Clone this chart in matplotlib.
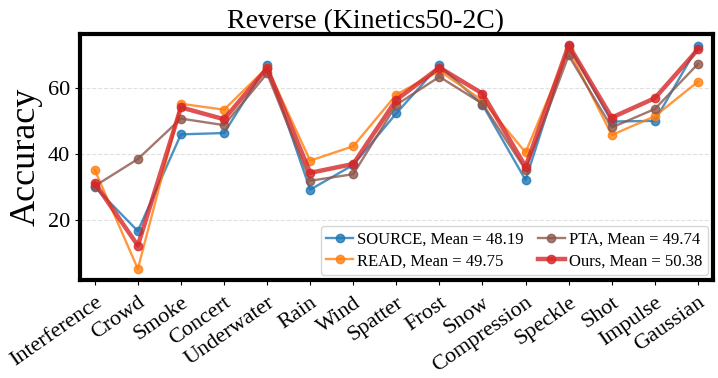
import matplotlib
matplotlib.use("Agg")
import matplotlib.pyplot as plt

categories = ["Interference", "Crowd", "Smoke", "Concert", "Underwater", "Rain", "Wind",
              "Spatter", "Frost", "Snow", "Compression", "Speckle", "Shot", "Impulse", "Gaussian"]
source = [29.9, 16.5, 45.9, 46.3, 67.0, 29.1, 36.6, 52.3, 66.9, 54.9, 32.0, 72.8, 49.8, 50.0, 72.7]
read = [35.1, 5.0, 55.2, 53.4, 66.2, 37.9, 42.3, 58.0, 65.2, 56.2, 40.4, 71.7, 45.7, 51.4, 61.9]
pta = [30.2, 38.4, 50.7, 48.7, 64.4, 31.8, 33.8, 54.9, 63.4, 55.2, 35.1, 69.9, 48.0, 53.6, 67.3]
ours = [31.1, 12.1, 54.1, 50.5, 66.0, 34.2, 36.9, 56.4, 66.2, 58.3, 36.1, 73.0, 51.0, 56.9, 71.7]
labels = ["SOURCE, Mean = 48.19", "READ, Mean = 49.75", "PTA, Mean = 49.74", "Ours, Mean = 50.38"]
title = "Reverse (Kinetics50-2C)"

plt.rcParams['font.family'] = ['Liberation Serif', 'DejaVu Serif']

fig = plt.figure(figsize=(7.18, 3.78), dpi=100)
ax = fig.add_axes([0.111, 0.259, 0.882, 0.651])

x = list(range(len(categories)))
series = [(source, "tab:blue", 1.7), (read, "tab:orange", 1.7),
          (pta, "tab:brown", 1.7), (ours, "tab:red", 3.2)]
for (vals, col, lw), lab in zip(series, labels):
    ax.plot(x, vals, marker='o', markersize=6, color=col, linewidth=lw, alpha=0.8, label=lab)

ax.set_xticks(x)
ax.set_xticklabels(categories, rotation=35, ha='right', rotation_mode='anchor', fontsize=16)
ax.tick_params(axis='x', pad=6)
ax.set_yticks([20, 40, 60])
ax.tick_params(axis='y', labelsize=16)
ax.set_xlim(-0.35, len(categories) - 1 + 0.35)
ax.set_ylabel("Accuracy", fontsize=26)
ax.set_title(title, fontsize=20, pad=4, x=0.452)
ax.grid(axis='y', linestyle='--', color='lightgray', alpha=0.7)
ax.set_axisbelow(True)
for sp in ax.spines.values():
    sp.set_linewidth(3)
ax.legend(ncol=2, loc='lower right', fontsize=12, handlelength=1.6, columnspacing=0.85,
          handletextpad=0.25, borderpad=0.35, labelspacing=0.35, borderaxespad=0.3)

fig.savefig("out.png", dpi=100)
